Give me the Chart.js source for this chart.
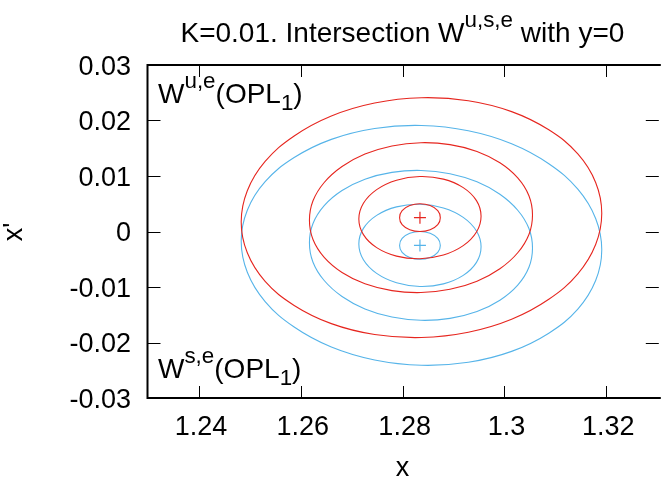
<!DOCTYPE html>
<html>
<head>
<meta charset="utf-8">
<script src="https://cdn.jsdelivr.net/npm/chart.js@4.4.1/dist/chart.umd.min.js"></script>
<style>
    html, body { margin: 0; padding: 0; background: #fff; }
    #wrap { width: 666px; height: 479px; }
</style>
</head>
<body>
<div id="wrap"><canvas id="manifoldChart" width="666" height="479"></canvas></div>
<script>
const xTicks = [1.24, 1.26, 1.28, 1.3, 1.32];
const xTickLabels = ['1.24', '1.26', '1.28', '1.3', '1.32'];
const yTicks = [-0.03, -0.02, -0.01, 0, 0.01, 0.02, 0.03];
const yTickLabels = ['-0.03', '-0.02', '-0.01', '0', '0.01', '0.02', '0.03'];
const xMin = 1.23;
const xMax = 1.3303;
const xFrameEnd = 1.33;
const yMin = -0.03;
const yMax = 0.03;

// curves; blue (W^s) share x with red (W^u)
const outerX = [1.3191, 1.3179, 1.3144, 1.3087, 1.3014, 1.2929, 1.2837, 1.2745, 1.2660, 1.2587, 1.2530, 1.2495,
    1.2483, 1.2495, 1.2530, 1.2587, 1.2660, 1.2745, 1.2837, 1.2929, 1.3014, 1.3087, 1.3144, 1.3179];
const redOuterY = [0.00328, 0.00884, 0.01398, 0.01832, 0.0216, 0.02356, 0.0241, 0.02316, 0.02082, 0.01722, 0.01262, 0.00734,
    0.00172, -0.00384, -0.00898, -0.01332, -0.0166, -0.01856, -0.0191, -0.01816, -0.01582, -0.01222, -0.00762, -0.00234];
const blueOuterY = [-0.00328, -0.00884, -0.01398, -0.01832, -0.0216, -0.02356, -0.0241, -0.02316, -0.02082, -0.01722, -0.01262, -0.00734,
    -0.00172, 0.00384, 0.00898, 0.01332, 0.0166, 0.01856, 0.0191, 0.01816, 0.01582, 0.01222, 0.00762, 0.00234];

const middleX = [1.3055, 1.3048, 1.3026, 1.2991, 1.2946, 1.2893, 1.2836, 1.2779, 1.2726, 1.2681, 1.2646, 1.2624,
    1.2617, 1.2624, 1.2646, 1.2681, 1.2726, 1.2779, 1.2836, 1.2893, 1.2946, 1.2991, 1.3026, 1.3048];
const redMiddleY = [0.00298, 0.00645, 0.00967, 0.01239, 0.01443, 0.01566, 0.016, 0.01542, 0.01395, 0.01171, 0.00883, 0.00553,
    0.00202, -0.00145, -0.00467, -0.00739, -0.00943, -0.01066, -0.011, -0.01042, -0.00895, -0.00671, -0.00383, -0.00053];
const blueMiddleY = [-0.00298, -0.00645, -0.00967, -0.01239, -0.01443, -0.01566, -0.016, -0.01542, -0.01395, -0.01171, -0.00883, -0.00553,
    -0.00202, 0.00145, 0.00467, 0.00739, 0.00943, 0.01066, 0.011, 0.01042, 0.00895, 0.00671, 0.00383, 0.00053];

const innerX = [1.2954, 1.2945, 1.2919, 1.2880, 1.2834, 1.2788, 1.2749, 1.2723,
    1.2714, 1.2723, 1.2749, 1.2788, 1.2834, 1.2880, 1.2919, 1.2945];
const redInnerY = [0.00276, 0.00557, 0.00791, 0.00944, 0.0099, 0.00924, 0.00755, 0.00509,
    0.00224, -0.00057, -0.00291, -0.00444, -0.0049, -0.00424, -0.00255, -0.00009];
const blueInnerY = [-0.00276, -0.00557, -0.00791, -0.00944, -0.0099, -0.00924, -0.00755, -0.00509,
    -0.00224, 0.00057, 0.00291, 0.00444, 0.0049, 0.00424, 0.00255, 0.00009];

const coreX = [1.2874, 1.2869, 1.2854, 1.2834, 1.2814, 1.2799, 1.2794, 1.2799, 1.2814, 1.2834, 1.2854, 1.2869];
const redCoreY = [0.0025, 0.00375, 0.00467, 0.005, 0.00467, 0.00375, 0.0025, 0.00125, 0.00033, 0, 0.00033, 0.00125];
const blueCoreY = [-0.0025, -0.00375, -0.00467, -0.005, -0.00467, -0.00375, -0.0025, -0.00125, -0.00033, 0, -0.00033, -0.00125];

// fixed points (the crosses)
const fixedX = [1.2834];
const redFixedY = [0.0025];
const blueFixedY = [-0.0025];

const redColor = '#e6261f';
const blueColor = '#56b4e9';
const fontFamily = '"Liberation Sans", Arial, Helvetica, sans-serif';
const tickFontSize = 27;
const textFontSize = 28;

function loopPoints(xs, ys) {
    const pts = xs.map((x, i) => ({ x: x, y: ys[i] }));
    // one extra point on each side so every drawn piece has both neighbours
    return [pts[pts.length - 1]].concat(pts, pts.slice(0, 2));
}

function curve(xs, ys, color) {
    const data = loopPoints(xs, ys);
    const last = data.length - 1;
    return {
        data: data,
        showLine: true,
        borderColor: color,
        borderWidth: 1.1,
        pointRadius: 0,
        pointHoverRadius: 0,
        tension: 0.4,
        fill: false,
        segment: {
            // hide the helper pieces at both ends of the list
            borderColor: c => (c.p0DataIndex === 0 || c.p1DataIndex === last) ? 'rgba(0,0,0,0)' : undefined
        }
    };
}

function marker(xs, ys, color) {
    return {
        data: xs.map((x, i) => ({ x: x, y: ys[i] })),
        showLine: false,
        pointStyle: 'cross',
        pointRadius: 6,
        pointHoverRadius: 6,
        borderColor: color,
        borderWidth: 1.2,
        backgroundColor: color
    };
}

function drawRich(ctx, parts, x, y, align, size) {
    const small = size * 0.8;
    let total = 0;
    parts.forEach(p => {
        ctx.font = ((p.sup || p.sub) ? small : size) + 'px ' + fontFamily;
        p.w = ctx.measureText(p.t).width;
        total += p.w;
    });
    let cx = align === 'center' ? x - total / 2 : x;
    ctx.textAlign = 'left';
    ctx.textBaseline = 'alphabetic';
    parts.forEach(p => {
        ctx.font = ((p.sup || p.sub) ? small : size) + 'px ' + fontFamily;
        const dy = p.sup ? -size * 0.52 : (p.sub ? size * 0.25 : 0);
        ctx.fillText(p.t, cx, y + dy);
        cx += p.w;
    });
}

const gnuplotFrame = {
    id: 'gnuplotFrame',
    afterDraw(chart) {
        const ctx = chart.ctx;
        const area = chart.chartArea;
        const xs = chart.scales.x;
        const ys = chart.scales.y;
        const left = area.left - 0.5;
        const frameRight = xs.getPixelForValue(xFrameEnd);

        ctx.save();
        ctx.strokeStyle = '#000';

        // inward ticks on all four sides
        ctx.lineWidth = 1;
        ctx.beginPath();
        xTicks.forEach(v => {
            const px = Math.round(xs.getPixelForValue(v)) + 0.5;
            ctx.moveTo(px, area.bottom);
            ctx.lineTo(px, area.bottom - 12);
            ctx.moveTo(px, area.top);
            ctx.lineTo(px, area.top + 12);
        });
        yTicks.slice(1, -1).forEach(v => {
            const py = Math.round(ys.getPixelForValue(v)) + 0.5;
            ctx.moveTo(left, py);
            ctx.lineTo(left + 13, py);
            ctx.moveTo(area.right, py);
            ctx.lineTo(area.right - 13, py);
        });
        ctx.stroke();

        // border (right edge falls outside the picture)
        ctx.lineWidth = 2;
        ctx.beginPath();
        ctx.moveTo(area.right + 2, area.top);
        ctx.lineTo(left, area.top);
        ctx.lineTo(left, area.bottom);
        ctx.lineTo(area.right + 2, area.bottom);
        ctx.stroke();

        ctx.fillStyle = '#000';
        ctx.font = tickFontSize + 'px ' + fontFamily;

        // tick labels
        ctx.textBaseline = 'alphabetic';
        ctx.textAlign = 'center';
        xTicks.forEach((v, i) => {
            ctx.fillText(xTickLabels[i], xs.getPixelForValue(v) + 2, 435);
        });
        ctx.textAlign = 'right';
        yTicks.forEach((v, i) => {
            ctx.fillText(yTickLabels[i], 131, ys.getPixelForValue(v) + 9.5);
        });

        // axis titles
        ctx.textAlign = 'center';
        ctx.fillText('x', (left + frameRight) / 2, 476);
        ctx.save();
        ctx.translate(22, 232);
        ctx.rotate(-Math.PI / 2);
        ctx.fillText("x'", 0, 0);
        ctx.restore();

        // chart title
        drawRich(ctx, [
            { t: 'K=0.01. Intersection W' },
            { t: 'u,s,e', sup: true },
            { t: ' with y=0' }
        ], (left + frameRight) / 2, 42, 'center', textFontSize);

        // labels inside the plot
        drawRich(ctx, [
            { t: 'W' }, { t: 'u,e', sup: true }, { t: '(OPL' }, { t: '1', sub: true }, { t: ')' }
        ], 158, 103, 'left', textFontSize);
        drawRich(ctx, [
            { t: 'W' }, { t: 's,e', sup: true }, { t: '(OPL' }, { t: '1', sub: true }, { t: ')' }
        ], 158, 378, 'left', textFontSize);

        ctx.restore();
    }
};

const ctx = document.getElementById('manifoldChart').getContext('2d');
const manifoldChart = new Chart(ctx, {
    type: 'scatter',
    data: {
        datasets: [
            curve(outerX, redOuterY, redColor),
            curve(middleX, redMiddleY, redColor),
            curve(innerX, redInnerY, redColor),
            curve(coreX, redCoreY, redColor),
            marker(fixedX, redFixedY, redColor),
            curve(outerX, blueOuterY, blueColor),
            curve(middleX, blueMiddleY, blueColor),
            curve(innerX, blueInnerY, blueColor),
            curve(coreX, blueCoreY, blueColor),
            marker(fixedX, blueFixedY, blueColor)
        ]
    },
    options: {
        responsive: false,
        animation: false,
        devicePixelRatio: 1,
        events: [],
        layout: {
            padding: { top: 65, right: 0, bottom: 0, left: 0 }
        },
        plugins: {
            legend: { display: false },
            title: { display: false },
            tooltip: { enabled: false }
        },
        scales: {
            x: {
                type: 'linear',
                min: xMin,
                max: xMax,
                ticks: { display: false },
                grid: { display: false },
                border: { display: false },
                afterFit: function (scale) { scale.height = 81; }
            },
            y: {
                type: 'linear',
                min: yMin,
                max: yMax,
                ticks: { display: false },
                grid: { display: false },
                border: { display: false },
                afterFit: function (scale) { scale.width = 148; }
            }
        }
    },
    plugins: [gnuplotFrame]
});
</script>
</body>
</html>
